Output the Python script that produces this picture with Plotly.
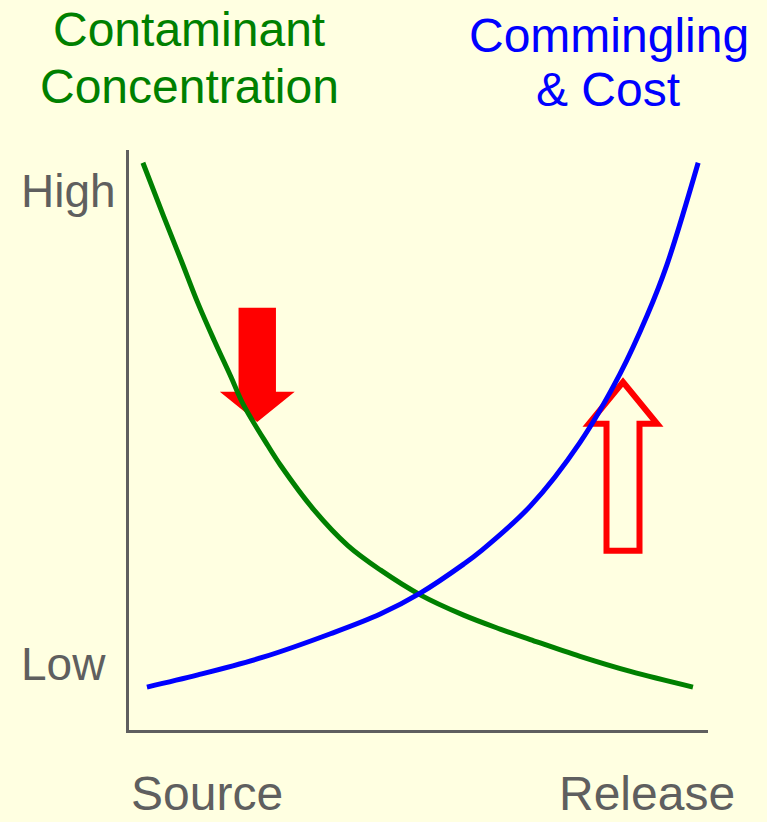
import plotly.graph_objects as go

# Position along the pathway (0 = source, 10 = release) and relative level (0 = low, 10 = high)
concentration_x = [0.24, 0.60, 0.90, 1.19, 1.47, 1.76, 1.98, 2.40, 2.62, 3.19, 3.78, 4.34,
                   5.03, 5.78, 6.41, 6.93, 7.79, 8.66, 9.74]
concentration_y = [9.78, 8.85, 8.10, 7.36, 6.72, 6.09, 5.60, 4.90, 4.56, 3.80, 3.18, 2.76,
                   2.33, 1.98, 1.74, 1.56, 1.27, 1.01, 0.74]

cost_x = [0.31, 1.19, 2.33, 3.48, 4.34, 5.03, 5.78, 6.07, 6.93, 7.79, 8.48, 8.95, 9.29, 9.83]
cost_y = [0.74, 0.95, 1.26, 1.66, 2.00, 2.36, 2.86, 3.08, 3.86, 4.96, 6.14, 7.15, 8.02, 9.78]

level_labels = ["High", "Low"]
level_pos = [9.29, 1.14]
stage_labels = ["Source", "Release"]
stage_pos = [1.35, 8.94]

GREEN = "#008000"
BLUE = "#0000FF"
RED = "#FF0000"
GREY = "#5F5F5F"
BG = "#FFFFE1"
FONT = "Liberation Sans, Arial, sans-serif"

fig = go.Figure()
fig.add_trace(go.Scatter(x=concentration_x, y=concentration_y, mode="lines",
                         line=dict(color=GREEN, width=5, shape="spline", smoothing=1.0),
                         hoverinfo="skip", showlegend=False))
fig.add_trace(go.Scatter(x=cost_x, y=cost_y, mode="lines",
                         line=dict(color=BLUE, width=5, shape="spline", smoothing=1.0),
                         hoverinfo="skip", showlegend=False))


def arrow_path(cx, tail, head_base, tip, shaft_half, head_half):
    pts = [(cx - shaft_half, tail), (cx + shaft_half, tail), (cx + shaft_half, head_base),
           (cx + head_half, head_base), (cx, tip), (cx - head_half, head_base),
           (cx - shaft_half, head_base)]
    return "M " + " L ".join(f"{x},{y}" for x, y in pts) + " Z"


# Solid arrow: concentration falls along the pathway
fig.add_shape(type="path", xref="x", yref="y",
              path=arrow_path(2.215, 7.28, 5.83, 5.31, 0.323, 0.647),
              fillcolor=RED, line=dict(width=0), layer="below")
# Hollow arrow: commingling and cost rise along the pathway
fig.add_shape(type="path", xref="x", yref="y",
              path=arrow_path(8.532, 3.09, 5.28, 6.0, 0.285, 0.59),
              fillcolor="rgba(0,0,0,0)", line=dict(color=RED, width=6), layer="below")

# Text positions in plot-fraction units (0..1 spans the axes, beyond that the margins)
annotations = [
    dict(text="Contaminant", x=0.103, y=1.207, font=dict(color=GREEN, size=48)),
    dict(text="Concentration", x=0.104, y=1.110, font=dict(color=GREEN, size=48)),
    dict(text="Commingling", x=0.829, y=1.198, font=dict(color=BLUE, size=48)),
    dict(text="& Cost", x=0.828, y=1.105, font=dict(color=BLUE, size=48)),
]
for lbl, pos in zip(level_labels, level_pos):
    annotations.append(dict(text=lbl, x=-0.19, y=pos / 10, xanchor="left",
                            font=dict(color=GREY, size=46)))
for lbl, pos in zip(stage_labels, stage_pos):
    annotations.append(dict(text=lbl, x=pos / 10, y=-0.110, font=dict(color=GREY, size=48)))

for a in annotations:
    a.setdefault("xanchor", "center")
    a.update(xref="paper", yref="paper", yanchor="middle", showarrow=False)
    a["font"]["family"] = FONT

fig.update_layout(
    width=767, height=822,
    margin=dict(l=129, r=59, t=150, b=92),
    paper_bgcolor=BG, plot_bgcolor=BG,
    annotations=annotations,
    xaxis=dict(range=[0, 10], showgrid=False, zeroline=False, showticklabels=False,
               showline=True, linecolor=GREY, linewidth=3, fixedrange=True),
    yaxis=dict(range=[0, 10], showgrid=False, zeroline=False, showticklabels=False,
               showline=True, linecolor=GREY, linewidth=3, fixedrange=True),
)

fig.write_html("out.html", config=dict(displayModeBar=False))
